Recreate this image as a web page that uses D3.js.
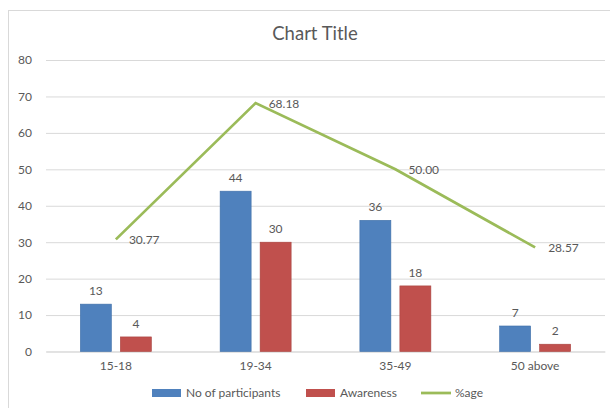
<!DOCTYPE html>
<html>
<head>
<meta charset="utf-8">
<script src="https://cdn.jsdelivr.net/npm/d3@7"></script>
<style>
  body { margin: 0; background: #fff; }
  text { font-family: Lato, "Open Sans", sans-serif; fill: #595959; }
</style>
</head>
<body>
<svg width="610" height="408"></svg>
<script>
// data
const categories = ["15-18", "19-34", "35-49", "50 above"];
const participants = [13, 44, 36, 7];
const awareness = [4, 30, 18, 2];
const percentage = [30.77, 68.18, 50.0, 28.57];
const yTicks = [0, 10, 20, 30, 40, 50, 60, 70, 80];

const margin = { top: 60, right: 5, bottom: 56, left: 46 },
  width = 610 - margin.left - margin.right,
  height = 408 - margin.top - margin.bottom;

const svg = d3.select("svg");

// chart border
svg.append("rect")
  .attr("x", 8.5).attr("y", 10.5)
  .attr("width", 620).attr("height", 420)
  .attr("fill", "none")
  .attr("stroke", "#d9d9d9");

svg.append("text")
  .attr("x", 315).attr("y", 40)
  .attr("text-anchor", "middle")
  .style("font-size", "18.5px")
  .text("Chart Title");

const g = svg.append("g")
  .attr("transform", `translate(${margin.left}, ${margin.top})`);

const x = d3.scaleBand()
  .domain(categories)
  .range([0, 559]);

const y = d3.scaleLinear()
  .domain([0, 80])
  .range([291.5, 0]);

// gridlines + y axis
const yAxis = g.append("g")
  .call(d3.axisLeft(y).tickValues(yTicks).tickSize(-559).tickPadding(14));
yAxis.select(".domain").remove();
yAxis.selectAll(".tick line").attr("stroke", "#d9d9d9");
yAxis.selectAll(".tick text").style("font-size", "12px").attr("fill", "#595959");

// x axis
const xAxis = g.append("g")
  .attr("transform", `translate(0, ${y(0)})`)
  .call(d3.axisBottom(x).tickSize(0).tickPadding(10));
xAxis.select(".domain").attr("stroke", "#d9d9d9");
xAxis.selectAll(".tick text").style("font-size", "12px").attr("fill", "#595959");

const barW = 31;
const series = [
  { name: "No of participants", values: participants, color: "#4f81bd", stroke: "#3f6fa8", off: -20 },
  { name: "Awareness", values: awareness, color: "#c0504d", stroke: "#a8423f", off: 20 }
];

series.forEach((s) => {
  g.selectAll(null)
    .data(s.values)
    .enter()
    .append("rect")
    .attr("x", (d, i) => x(categories[i]) + x.bandwidth() / 2 + s.off - barW / 2)
    .attr("y", (d) => y(d))
    .attr("width", barW)
    .attr("height", (d) => y(0) - y(d))
    .attr("fill", s.color)
    .attr("stroke", s.stroke)
    .attr("stroke-width", 0.6);

  g.selectAll(null)
    .data(s.values)
    .enter()
    .append("text")
    .attr("x", (d, i) => x(categories[i]) + x.bandwidth() / 2 + s.off)
    .attr("y", (d) => y(d) - 9)
    .attr("text-anchor", "middle")
    .style("font-size", "12px")
    .attr("fill", "#404040")
    .text((d) => d);
});

// %age line
const line = d3.line()
  .x((d, i) => x(categories[i]) + x.bandwidth() / 2)
  .y((d) => y(d));

g.append("path")
  .datum(percentage)
  .attr("fill", "none")
  .attr("stroke", "#9bbb59")
  .attr("stroke-width", 2.75)
  .attr("d", line);

g.selectAll(null)
  .data(percentage)
  .enter()
  .append("text")
  .attr("x", (d, i) => x(categories[i]) + x.bandwidth() / 2 + 13)
  .attr("y", (d) => y(d))
  .attr("dy", "0.38em")
  .style("font-size", "12px")
  .attr("fill", "#404040")
  .text((d) => d.toFixed(2));

// legend
const legendItems = [
  { name: "No of participants", color: "#4f81bd", type: "rect", x: 152 },
  { name: "Awareness", color: "#c0504d", type: "rect", x: 306 },
  { name: "%age", color: "#9bbb59", type: "line", x: 421 }
];

const legend = svg.append("g").attr("class", "legend");
legendItems.forEach((d) => {
  if (d.type === "rect") {
    legend.append("rect")
      .attr("x", d.x).attr("y", 389)
      .attr("width", 29).attr("height", 8)
      .attr("fill", d.color);
  } else {
    legend.append("line")
      .attr("x1", d.x).attr("x2", d.x + 30)
      .attr("y1", 393).attr("y2", 393)
      .attr("stroke", d.color)
      .attr("stroke-width", 2.75);
  }
  legend.append("text")
    .attr("x", d.x + 34).attr("y", 393)
    .attr("dy", "0.35em")
    .style("font-size", "12px")
    .text(d.name);
});
</script>
</body>
</html>
